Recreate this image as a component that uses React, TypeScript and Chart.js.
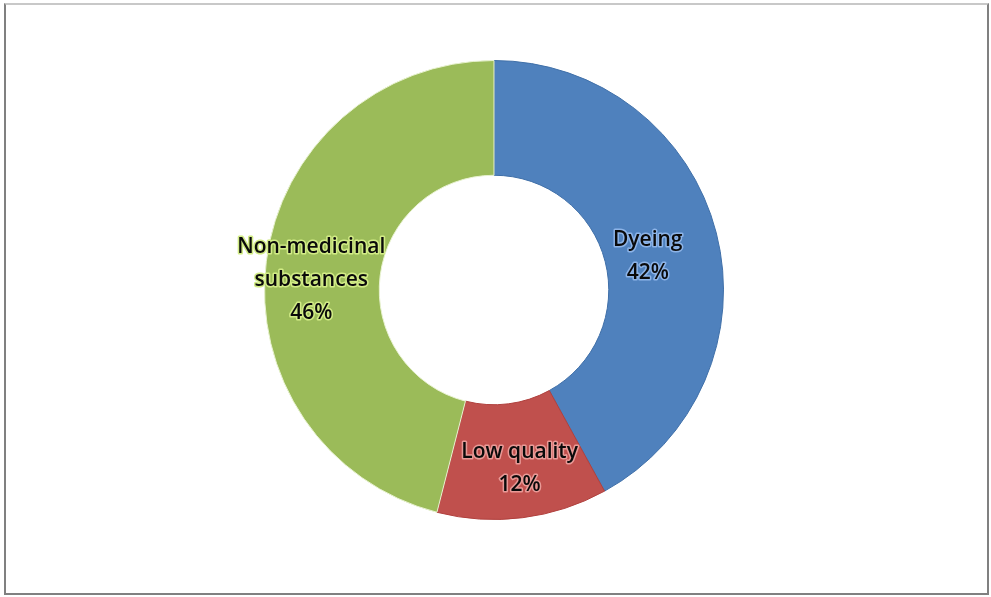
import React, { useEffect, useRef } from "react";
import { Chart, registerables } from "chart.js";

Chart.register(...registerables);

const categories: string[][] = [["Dyeing"], ["Low quality"], ["Non-medicinal", "substances"]];
const values: number[] = [42, 12, 46];
const percentLabels: string[] = ["42%", "12%", "46%"];
const fillColors: string[] = ["#4F81BD", "#C0504D", "#9BBB59"];
const edgeColors: string[] = ["#3F6FA8", "#B0403D", "#E8F2D0"];
const glowColors: string[] = ["#8DB4E8", "#E99A97", "#D2EC86"];

const labelPlugin = {
  id: "sliceLabels",
  afterDatasetsDraw(chart: any) {
    const ctx = chart.ctx;
    const meta = chart.getDatasetMeta(0);
    ctx.save();
    ctx.font = "600 21px 'Open Sans', sans-serif";
    ctx.textAlign = "center";
    ctx.textBaseline = "middle";
    ctx.lineJoin = "round";
    const lineH = 33;
    const dx = [-13, 4, -12];
    const dy = [9, 8, 12];
    meta.data.forEach((arc: any, i: number) => {
      const pos = arc.tooltipPosition();
      const lines = [...categories[i], percentLabels[i]];
      const startY = pos.y - ((lines.length - 1) * lineH) / 2 + dy[i];
      lines.forEach((t, j) => {
        const y = startY + j * lineH;
        const x = pos.x + dx[i];
        ctx.lineWidth = 3;
        ctx.strokeStyle = glowColors[i];
        ctx.strokeText(t, x, y);
        ctx.fillStyle = "#0a0a0a";
        ctx.fillText(t, x, y);
      });
    });
    ctx.restore();
  },
};

export default function App() {
  const ref = useRef<HTMLCanvasElement | null>(null);
  useEffect(() => {
    document.body.style.margin = "0";
    const chart = new Chart(ref.current as HTMLCanvasElement, {
      type: "doughnut",
      data: {
        labels: categories.map((c) => c.join(" ")),
        datasets: [
          {
            data: values,
            backgroundColor: fillColors,
            borderColor: edgeColors,
            borderWidth: 1,
          },
        ],
      },
      options: {
        animation: false,
        responsive: false,
        cutout: "50%",
        layout: { padding: { top: 60, bottom: 77, left: 264, right: 267 } },
        plugins: { legend: { display: false }, tooltip: { enabled: false } },
      },
      plugins: [labelPlugin],
    });
    return () => chart.destroy();
  }, []);
  return (
    <div style={{ position: "relative", width: 991, height: 597, background: "#fff" }}>
      <canvas ref={ref} width={991} height={597} style={{ position: "absolute", left: 0, top: 0 }} />
      <div
        style={{
          position: "absolute",
          left: 4,
          top: 3,
          width: 981,
          height: 588,
          border: "2px solid #808080",
          borderTopColor: "#c8c8c8",
          pointerEvents: "none",
        }}
      />
    </div>
  );
}
